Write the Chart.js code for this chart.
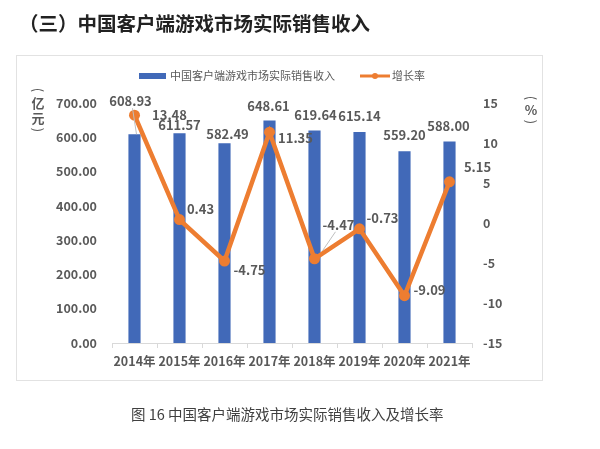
<!DOCTYPE html>
<html>
<head>
<meta charset="utf-8">
<script src="https://cdn.jsdelivr.net/npm/chart.js@4.4.0/dist/chart.umd.min.js"></script>
<style>
  body { margin: 0; background: #fff; font-family: "Microsoft YaHei", "Noto Sans CJK SC", sans-serif; }
  #wrap { position: relative; width: 600px; height: 449px; overflow: hidden; }
  #chart { position: absolute; left: 0; top: 0; }
  #title { position: absolute; left: 19px; top: 8px; font-size: 19.5px; font-weight: bold; color: #222; white-space: nowrap; }
  #caption { position: absolute; left: 131px; top: 403px; font-size: 14.5px; color: #404040; white-space: nowrap; }
</style>
</head>
<body>
<div id="wrap">
  <canvas id="chart" width="600" height="449"></canvas>
  <div id="title">（三）中国客户端游戏市场实际销售收入</div>
  <div id="caption">图 16 中国客户端游戏市场实际销售收入及增长率</div>
</div>
<script>
const years = ['2014年', '2015年', '2016年', '2017年', '2018年', '2019年', '2020年', '2021年'];
const revenue = [608.93, 611.57, 582.49, 648.61, 619.64, 615.14, 559.20, 588.00];
const growth = [13.48, 0.43, -4.75, 11.35, -4.47, -0.73, -9.09, 5.15];
const revenueName = '中国客户端游戏市场实际销售收入';
const growthName = '增长率';

const BLUE = '#4169B8';
const ORANGE = '#ED7D31';
const GRAY = '#595959';
const FONT = '"Microsoft YaHei", "Noto Sans CJK SC", sans-serif';

// label offsets from the mark (dx, dy)
const barLabelOffsets = [[-4, -33], [0, -8], [3, -9], [-1, -15], [1, -15], [0, -16], [0, -16], [-1, -15]];
const lineLabelOffsets = [[35, 0], [21, -10], [25, 9], [26, 6], [24, -34], [23, -11], [25, -6], [28, -15]];

// draws a character turned a quarter turn (for the vertical brackets)
function turned(ctx, ch, x, y) {
  ctx.save();
  ctx.translate(x, y);
  ctx.rotate(Math.PI / 2);
  ctx.textAlign = 'center';
  ctx.textBaseline = 'middle';
  ctx.fillText(ch, 0, 0);
  ctx.restore();
}

const extras = {
  id: 'extras',
  beforeDraw(chart) {
    const ctx = chart.ctx;
    ctx.save();
    ctx.strokeStyle = '#e2e2e2';
    ctx.lineWidth = 1;
    ctx.strokeRect(16.5, 55.5, 526, 325);
    ctx.restore();
  },
  afterDraw(chart) {
    const ctx = chart.ctx;
    ctx.save();

    // legend
    ctx.font = '11px ' + FONT;
    ctx.textBaseline = 'middle';
    ctx.fillStyle = BLUE;
    ctx.fillRect(139, 73, 27, 6);
    ctx.fillStyle = GRAY;
    ctx.fillText(revenueName, 170, 76);
    ctx.strokeStyle = ORANGE;
    ctx.lineWidth = 3;
    ctx.beginPath();
    ctx.moveTo(360, 76);
    ctx.lineTo(390, 76);
    ctx.stroke();
    ctx.fillStyle = ORANGE;
    ctx.beginPath();
    ctx.arc(375, 76, 3, 0, Math.PI * 2);
    ctx.fill();
    ctx.fillStyle = GRAY;
    ctx.fillText(growthName, 392, 76);

    // axis titles, written vertically
    ctx.textAlign = 'center';
    ctx.fillStyle = GRAY;
    ctx.font = '13px ' + FONT;
    turned(ctx, '(', 38, 90);
    turned(ctx, ')', 38, 130);
    turned(ctx, '(', 531, 98);
    turned(ctx, ')', 531, 122);
    ctx.font = 'bold 13px ' + FONT;
    ctx.fillText('亿', 38, 103);
    ctx.fillText('元', 38, 118);
    ctx.fillText('%', 531, 110);

    // data labels
    const bars = chart.getDatasetMeta(1).data;
    bars.forEach((bar, i) => {
      const [dx, dy] = barLabelOffsets[i];
      ctx.fillText(revenue[i].toFixed(2), bar.x + dx, bar.y + dy);
    });
    const pts = chart.getDatasetMeta(0).data;
    pts.forEach((p, i) => {
      const [dx, dy] = lineLabelOffsets[i];
      ctx.fillText(growth[i].toFixed(2), p.x + dx, p.y + dy);
    });

    // leader lines
    ctx.strokeStyle = '#bfbfbf';
    ctx.lineWidth = 1;
    ctx.beginPath();
    ctx.moveTo(bars[0].x - 2, bars[0].y + barLabelOffsets[0][1] + 7);
    ctx.lineTo(bars[0].x + 2, bars[0].y);
    ctx.moveTo(pts[4].x + lineLabelOffsets[4][0] - 3, pts[4].y + lineLabelOffsets[4][1] + 7);
    ctx.lineTo(pts[4].x + 8, pts[4].y - 8);
    ctx.stroke();

    ctx.restore();
  }
};

const ctx = document.getElementById('chart').getContext('2d');
const chart = new Chart(ctx, {
  data: {
    labels: years,
    datasets: [
      {
        type: 'line',
        label: growthName,
        data: growth,
        yAxisID: 'y1',
        borderColor: ORANGE,
        backgroundColor: ORANGE,
        borderWidth: 4.5,
        pointRadius: 5.5,
        pointBackgroundColor: ORANGE,
        pointBorderWidth: 0,
        tension: 0,
        order: 0
      },
      {
        type: 'bar',
        label: revenueName,
        data: revenue,
        yAxisID: 'y',
        backgroundColor: BLUE,
        barPercentage: 0.27,
        categoryPercentage: 1,
        order: 1
      }
    ]
  },
  options: {
    responsive: false,
    animation: false,
    layout: { padding: { left: 40, right: 78, top: 103, bottom: 69 } },
    plugins: {
      legend: { display: false },
      tooltip: { enabled: false }
    },
    scales: {
      x: {
        grid: { drawOnChartArea: false, drawTicks: true, tickLength: 5, color: '#d9d9d9' },
        border: { color: '#d9d9d9' },
        ticks: { color: GRAY, font: { family: FONT, size: 12.5, weight: 'bold' }, padding: 6, maxRotation: 0, autoSkip: false },
        afterFit(s) { s.height = 37; }
      },
      y: {
        position: 'left',
        min: 0,
        max: 700,
        grid: { display: false, drawTicks: false },
        border: { display: false },
        ticks: {
          stepSize: 100,
          color: GRAY,
          padding: 15,
          font: { family: FONT, size: 12.5, weight: 'bold' },
          callback: v => v.toFixed(2)
        },
        afterFit(s) { s.width = 72; }
      },
      y1: {
        position: 'right',
        min: -15,
        max: 15,
        grid: { display: false, drawTicks: false },
        border: { display: false },
        ticks: { stepSize: 5, color: GRAY, padding: 11, font: { family: FONT, size: 12.5, weight: 'bold' } },
        afterFit(s) { s.width = 50; }
      }
    }
  },
  plugins: [extras]
});
</script>
</body>
</html>
